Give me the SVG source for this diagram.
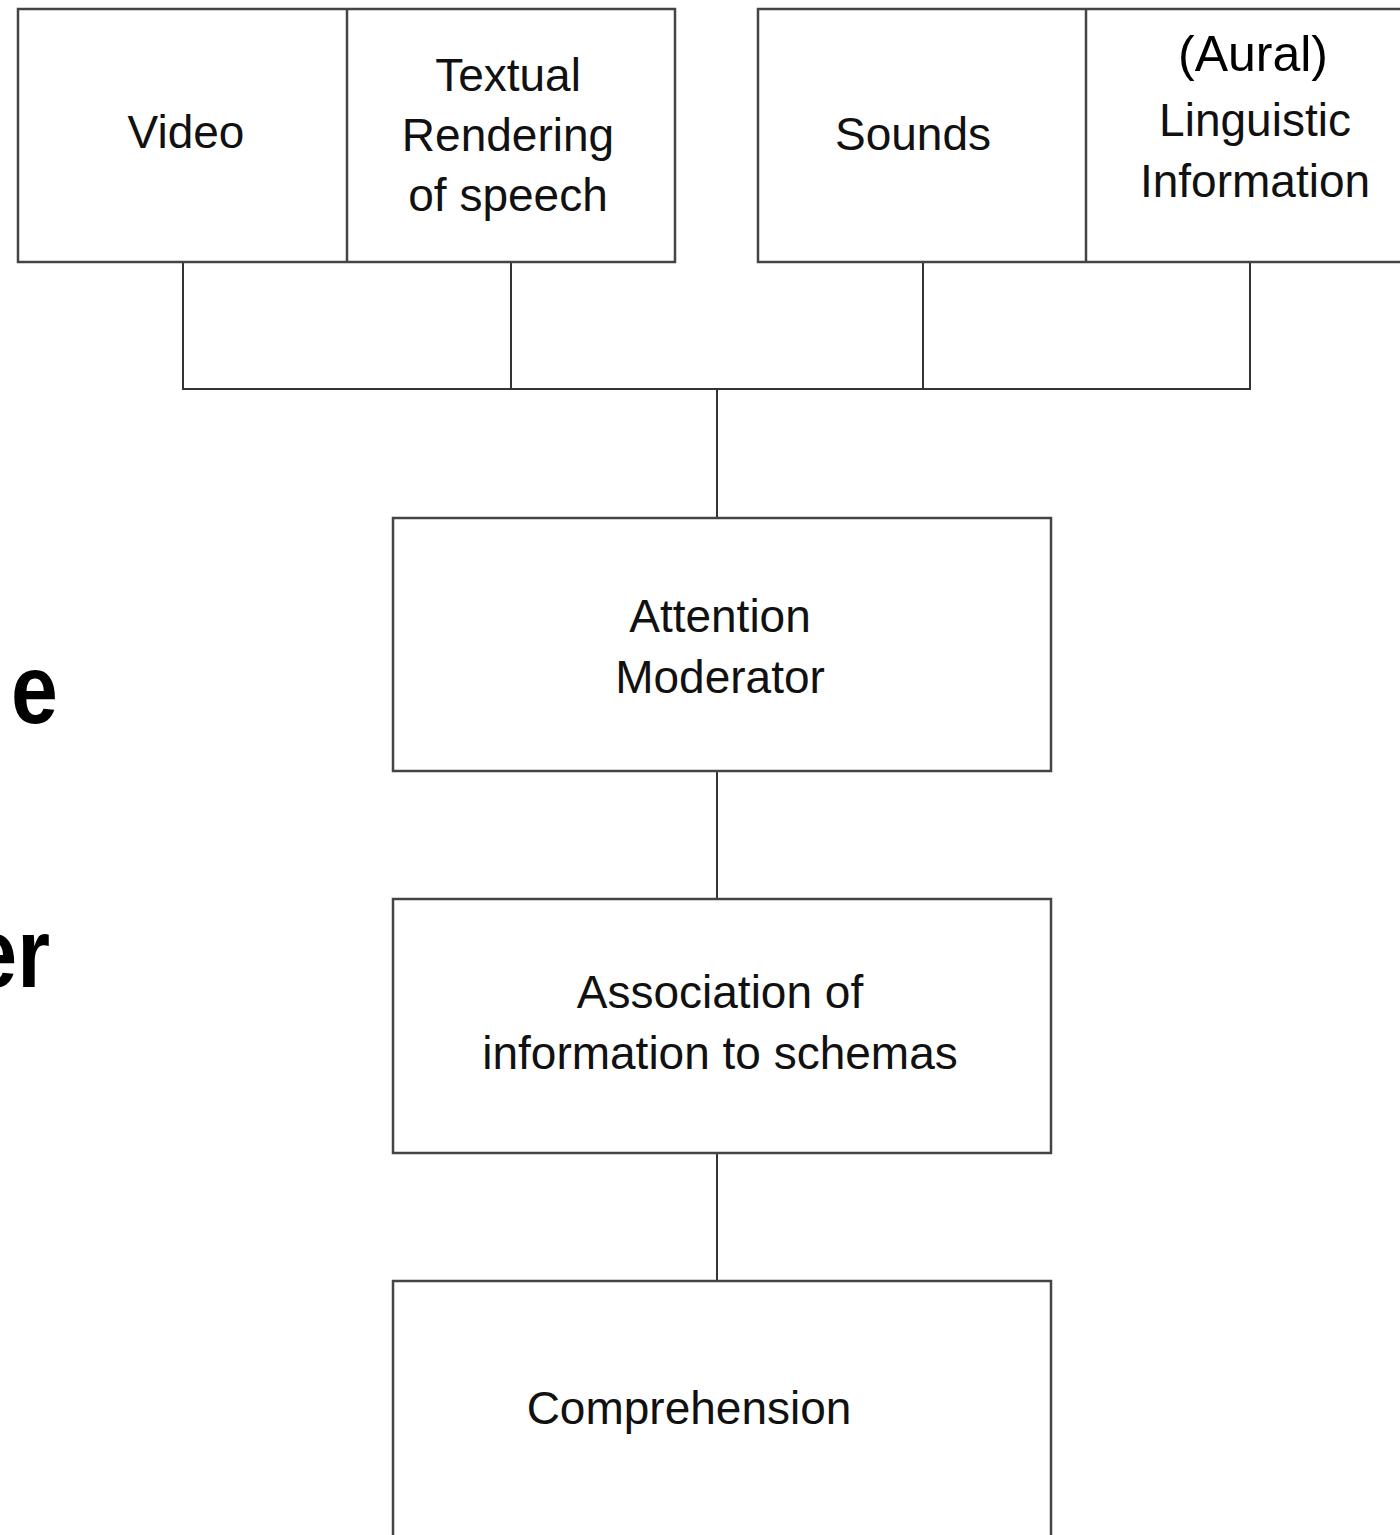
<svg xmlns="http://www.w3.org/2000/svg" width="1400" height="1535" viewBox="0 0 1400 1535">
<style>
.box{fill:#fff;stroke:#444;stroke-width:2.5}
.div{stroke:#444;stroke-width:2.5}
.con{fill:none;stroke:#333;stroke-width:2}
.t{font-family:"Liberation Sans",Arial,sans-serif;font-size:46px;fill:#111;text-anchor:middle}
.a{font-family:"Liberation Sans",Arial,sans-serif;font-size:50px;fill:#000;text-anchor:middle}
.b{font-family:"Liberation Sans",Arial,sans-serif;font-size:98px;font-weight:bold;fill:#000;text-anchor:end}
</style>
<rect width="1400" height="1535" fill="#fff"/>
<g id="connectors">
<path class="con" d="M183,262 V389 H1250 V262 M511,262 V389 M923,262 V389 M717,389 V518 M717,771 V899 M717,1153 V1281"/>
</g>
<g id="left-group">
<rect class="box" x="18" y="9" width="657" height="253"/>
<line class="div" x1="347" y1="9" x2="347" y2="262"/>
<g id="video"><text class="t" x="186" y="148">Video</text></g>
<g id="textual"><text class="t" x="508" y="91">Textual</text><text class="t" x="508" y="151">Rendering</text><text class="t" x="508" y="211">of speech</text></g>
</g>
<g id="right-group">
<rect class="box" x="758" y="9" width="700" height="253"/>
<line class="div" x1="1086" y1="9" x2="1086" y2="262"/>
<g id="sounds"><text class="t" x="913" y="150">Sounds</text></g>
<g id="linguistic"><text class="a" x="1253" y="71">(Aural)</text><text class="t" x="1255" y="136">Linguistic</text><text class="t" x="1255" y="197">Information</text></g>
</g>
<g id="attention">
<rect class="box" x="393" y="518" width="658" height="253"/>
<text class="t" x="720" y="632">Attention</text><text class="t" x="720" y="693">Moderator</text>
</g>
<g id="association">
<rect class="box" x="393" y="899" width="658" height="254"/>
<text class="t" x="720" y="1008">Association of</text><text class="t" x="720" y="1069">information to schemas</text>
</g>
<g id="comprehension">
<rect class="box" x="393" y="1281" width="658" height="300"/>
<text class="t" x="689" y="1424">Comprehension</text>
</g>
<g id="side-text">
<text class="b" x="58" y="723" transform="translate(58,0) scale(0.86,1) translate(-58,0)">e</text>
<text class="b" x="50" y="987" transform="translate(50,0) scale(0.86,1) translate(-50,0)">er</text>
</g>
</svg>
